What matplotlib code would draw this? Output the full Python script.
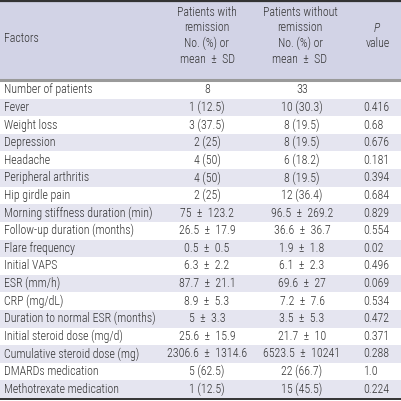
import matplotlib.pyplot as plt

factors = ["Number of patients", "Fever", "Weight loss", "Depression", "Headache",
           "Peripheral arthritis", "Hip girdle pain", "Morning stiffness duration (min)",
           "Follow-up duration (months)", "Flare frequency", "Initial VAPS", "ESR (mm/h)",
           "CRP (mg/dL)", "Duration to normal ESR (months)", "Initial steroid dose (mg/d)",
           "Cumulative steroid dose (mg)", "DMARDs medication", "Methotrexate medication"]
with_remission = ["8", "1 (12.5)", "3 (37.5)", "2 (25)", "4 (50)", "4 (50)", "2 (25)",
                  "75 \u00b1 123.2", "26.5 \u00b1 17.9", "0.5 \u00b1 0.5", "6.3 \u00b1 2.2",
                  "87.7 \u00b1 21.1", "8.9 \u00b1 5.3", "5 \u00b1 3.3", "25.6 \u00b1 15.9",
                  "2306.6 \u00b1 1314.6", "5 (62.5)", "1 (12.5)"]
without_remission = ["33", "10 (30.3)", "8 (19.5)", "8 (19.5)", "6 (18.2)", "8 (19.5)",
                     "12 (36.4)", "96.5 \u00b1 269.2", "36.6 \u00b1 36.7", "1.9 \u00b1 1.8",
                     "6.1 \u00b1 2.3", "69.6 \u00b1 27", "7.2 \u00b1 7.6", "3.5 \u00b1 5.3",
                     "21.7 \u00b1 10", "6523.5 \u00b1 10241", "22 (66.7)", "15 (45.5)"]
p_values = ["", "0.416", "0.68", "0.676", "0.181", "0.394", "0.684", "0.829", "0.554",
            "0.02", "0.496", "0.069", "0.534", "0.472", "0.371", "0.288", "1.0", "0.224"]

plt.rcParams["font.family"] = ["Roboto Condensed", "DejaVu Sans"]
plt.rcParams["font.weight"] = "light"

HEAD_BG = "#d2d3e6"
STRIPE = "#e5e5f0"
TXT = "#333333"
FS = 8.6


def pm(s):
    # wider spacing around the plus-minus sign, as in the original typesetting
    return s.replace(" \u00b1 ", "\u2002\u00b1\u2002")


fig = plt.figure(figsize=(4.01, 4.01), dpi=100)
ax = fig.add_axes([0, 0, 1, 1])
ax.set_xlim(0, 401)
ax.set_ylim(401, 0)
ax.axis("off")

# header
ax.axhspan(1.5, 79, color=HEAD_BG, lw=0)
ax.axhline(1, color="#333333", lw=1.6)
ax.axhline(79.5, color="#9a9a9a", lw=2.2)

ax.text(4, 39, "Factors", fontsize=FS, color=TXT, va="center", ha="left")
for i, s in enumerate(["Patients with", "remission", "No. (%) or", pm("mean \u00b1 SD")]):
    ax.text(207, 12 + i * 15.8, s, fontsize=FS, color=TXT, va="center", ha="center")
for i, s in enumerate(["Patients without", "remission", "No. (%) or", pm("mean \u00b1 SD")]):
    ax.text(300, 12 + i * 15.8, s, fontsize=FS, color=TXT, va="center", ha="center")
ax.text(377, 28, "P", fontsize=FS, color=TXT, va="center", ha="center", style="italic")
ax.text(378, 43.5, "value", fontsize=FS, color=TXT, va="center", ha="center")

y0 = 81
h = (398 - y0) / len(factors)
for i, (f, a, b, p) in enumerate(zip(factors, with_remission, without_remission, p_values)):
    top = y0 + i * h
    if i % 2 == 1:
        ax.axhspan(top, top + h, color=STRIPE, lw=0)
    yc = top + h / 2
    ax.text(4, yc, f, fontsize=FS, color=TXT, va="center", ha="left")
    ax.text(207, yc, pm(a), fontsize=FS, color=TXT, va="center", ha="center")
    ax.text(302, yc, pm(b), fontsize=FS, color=TXT, va="center", ha="center")
    ax.text(363, yc, p, fontsize=FS, color=TXT, va="center", ha="left")

ax.axhline(398.5, color="#333333", lw=1.4)

fig.savefig("out.png", dpi=100)
